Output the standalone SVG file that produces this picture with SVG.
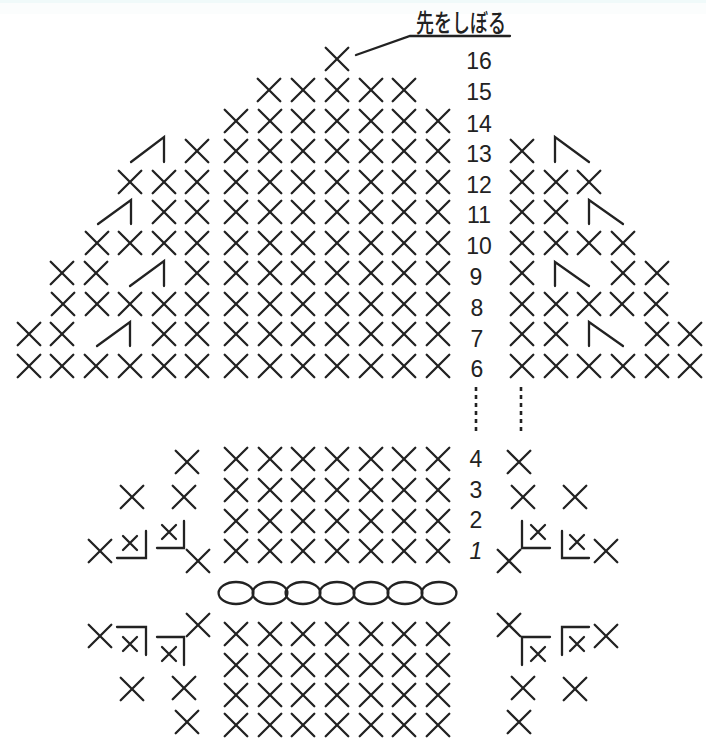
<svg xmlns="http://www.w3.org/2000/svg" width="706" height="738" viewBox="0 0 706 738">
<style>
.l{fill:none;stroke:#222;stroke-width:2.3;stroke-linecap:round;stroke-linejoin:miter}
.n{font-family:"Liberation Sans",sans-serif;font-size:23px;fill:#222;text-anchor:middle}
.i{font-style:italic}
.o{fill:none;stroke:#222;stroke-width:2.3}
</style>
<defs>
<path id="x" class="l" d="M-11.3-11.3L11.3 11.3M11.3-11.3L-11.3 11.3"/>
<path id="s" class="l" d="M-7-7L7 7M7-7L-7 7"/>
<g id="mid">
<use href="#x" x="236"/><use href="#x" x="270"/><use href="#x" x="303"/><use href="#x" x="337"/><use href="#x" x="371"/><use href="#x" x="404"/><use href="#x" x="438"/>
</g>
<ellipse id="ov" class="o" rx="17.4" ry="11"/>
</defs>
<rect width="706" height="738" fill="#fff"/>
<rect width="706" height="14" fill="#fbfdfd"/>
<rect width="706" height="3" fill="#f0fafa"/>
<text x="416" y="32" font-family="'Noto Sans CJK JP',sans-serif" font-size="25" font-weight="500" fill="#222" textLength="90" lengthAdjust="spacingAndGlyphs">先をしぼる</text>
<path class="l" d="M356 55L410 36H510"/>
<use href="#x" x="337" y="59"/>
<use href="#x" x="269" y="90"/><use href="#x" x="303" y="90"/><use href="#x" x="337" y="90"/><use href="#x" x="371" y="90"/><use href="#x" x="404" y="90"/>
<use href="#mid" y="121"/>
<use href="#mid" y="151"/><use href="#x" x="197" y="151"/><path class="l" d="M131 162L164 137V162"/><use href="#x" x="522" y="151"/><path class="l" d="M555 162V137L589 162"/>
<use href="#mid" y="182"/><use href="#x" x="130" y="182"/><use href="#x" x="164" y="182"/><use href="#x" x="197" y="182"/><use href="#x" x="522" y="182"/><use href="#x" x="556" y="182"/><use href="#x" x="589" y="182"/>
<use href="#mid" y="212"/><path class="l" d="M98 224L131 200V224"/><use href="#x" x="164" y="212"/><use href="#x" x="197" y="212"/><use href="#x" x="522" y="212"/><use href="#x" x="556" y="212"/><path class="l" d="M589 224V200L623 224"/>
<use href="#mid" y="243"/><use href="#x" x="97" y="243"/><use href="#x" x="130" y="243"/><use href="#x" x="164" y="243"/><use href="#x" x="197" y="243"/><use href="#x" x="522" y="243"/><use href="#x" x="556" y="243"/><use href="#x" x="589" y="243"/><use href="#x" x="623" y="243"/>
<use href="#mid" y="273"/><use href="#x" x="62" y="273"/><use href="#x" x="96" y="273"/><path class="l" d="M130 286L164 261V286"/><use href="#x" x="197" y="273"/><use href="#x" x="522" y="273"/><path class="l" d="M555 286V262L589 286"/><use href="#x" x="623" y="273"/><use href="#x" x="657" y="273"/>
<use href="#mid" y="304"/><use href="#x" x="63" y="304"/><use href="#x" x="97" y="304"/><use href="#x" x="130" y="304"/><use href="#x" x="164" y="304"/><use href="#x" x="197" y="304"/><use href="#x" x="522" y="304"/><use href="#x" x="556" y="304"/><use href="#x" x="589" y="304"/><use href="#x" x="622" y="304"/><use href="#x" x="656" y="304"/>
<use href="#mid" y="334"/><use href="#x" x="29" y="334"/><use href="#x" x="62" y="334"/><path class="l" d="M97 346L130 322V346"/><use href="#x" x="164" y="334"/><use href="#x" x="197" y="334"/><use href="#x" x="522" y="334"/><use href="#x" x="556" y="334"/><path class="l" d="M589 346V322L623 346"/><use href="#x" x="657" y="334"/><use href="#x" x="690" y="334"/>
<use href="#mid" y="366"/><use href="#x" x="29" y="366"/><use href="#x" x="62" y="366"/><use href="#x" x="96" y="366"/><use href="#x" x="130" y="366"/><use href="#x" x="164" y="366"/><use href="#x" x="197" y="366"/><use href="#x" x="522" y="366"/><use href="#x" x="556" y="366"/><use href="#x" x="589" y="366"/><use href="#x" x="623" y="366"/><use href="#x" x="657" y="366"/><use href="#x" x="690" y="366"/>
<path d="M476 387V435M521 387V435" fill="none" stroke="#222" stroke-width="2.6" stroke-dasharray="4 4"/>
<use href="#mid" y="459"/><use href="#x" x="187" y="462"/><use href="#x" x="519" y="462"/>
<use href="#mid" y="490"/><use href="#x" x="132" y="497"/><use href="#x" x="184" y="497"/><use href="#x" x="523" y="497"/><use href="#x" x="575" y="497"/>
<use href="#mid" y="521"/>
<use href="#mid" y="551"/>
<use href="#x" x="100" y="551"/><path class="l" d="M117 558H146V531"/><use href="#s" x="130" y="543"/>
<path class="l" d="M157 548H184V521"/><use href="#s" x="169" y="532"/><use href="#x" x="198" y="561"/>
<use href="#x" x="509" y="561"/><path class="l" d="M522 521V548H550"/><use href="#s" x="538" y="532"/>
<path class="l" d="M562 531V558H589"/><use href="#s" x="577" y="542"/><use href="#x" x="606" y="551"/>
<use href="#ov" x="236" y="593"/><use href="#ov" x="270" y="593"/><use href="#ov" x="303" y="593"/><use href="#ov" x="337" y="593"/><use href="#ov" x="371" y="593"/><use href="#ov" x="405" y="593"/><use href="#ov" x="439" y="593"/>
<use href="#mid" y="634"/>
<use href="#x" x="100" y="636"/><path class="l" d="M117 627H146V655"/><use href="#s" x="130" y="644"/>
<path class="l" d="M157 637H184V665"/><use href="#s" x="169" y="654"/><use href="#x" x="198" y="625"/>
<use href="#x" x="509" y="625"/><path class="l" d="M522 665V637H550"/><use href="#s" x="538" y="654"/>
<path class="l" d="M562 655V627H589"/><use href="#s" x="577" y="644"/><use href="#x" x="606" y="636"/>
<use href="#mid" y="665"/>
<use href="#mid" y="695"/><use href="#x" x="132" y="689"/><use href="#x" x="184" y="688"/><use href="#x" x="523" y="688"/><use href="#x" x="575" y="689"/>
<use href="#mid" y="725"/><use href="#x" x="187" y="722"/><use href="#x" x="519" y="722"/>
<g>
<text class="n" x="479" y="69">16</text>
<text class="n" x="479" y="100">15</text>
<text class="n" x="479" y="132">14</text>
<text class="n" x="479" y="162">13</text>
<text class="n" x="479" y="193">12</text>
<text class="n" x="479" y="223">11</text>
<text class="n" x="479" y="254">10</text>
<text class="n" x="476" y="285">9</text>
<text class="n" x="477" y="316">8</text>
<text class="n" x="477" y="347">7</text>
<text class="n" x="477" y="377">6</text>
<text class="n" x="476" y="467">4</text>
<text class="n" x="476" y="498">3</text>
<text class="n" x="476" y="528">2</text>
<text class="n i" x="476" y="559">1</text>
</g>
</svg>
